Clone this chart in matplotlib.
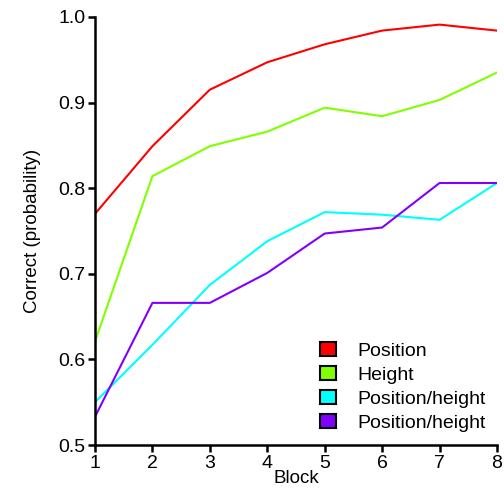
import matplotlib
matplotlib.use("Agg")
import matplotlib.pyplot as plt
from matplotlib.patches import Patch

plt.rcParams['font.family'] = ['Liberation Sans', 'DejaVu Sans']

blocks = [1, 2, 3, 4, 5, 6, 7, 8]
position = [0.770, 0.849, 0.915, 0.947, 0.968, 0.984, 0.991, 0.984]
height = [0.621, 0.814, 0.849, 0.866, 0.894, 0.884, 0.903, 0.935]
pos_height_a = [0.550, 0.617, 0.687, 0.738, 0.772, 0.769, 0.763, 0.806]
pos_height_b = [0.533, 0.666, 0.666, 0.701, 0.747, 0.754, 0.806, 0.806]

labels = ['Position', 'Height', 'Position/height', 'Position/height']
colors = ['#ff0000', '#80ff00', '#00ffff', '#8000ff']
series = [position, height, pos_height_a, pos_height_b]

fig = plt.figure(figsize=(5.04, 4.97), dpi=100)
ax = fig.add_axes([0.1885, 0.1046, 0.7975, 0.8614])

for vals, col in zip(series, colors):
    ax.plot(blocks, vals, color=col, linewidth=1.5)

ax.set_xlim(1, 8)
ax.set_ylim(0.5, 1.0)
ax.set_xticks(blocks)
ax.set_yticks([0.5, 0.6, 0.7, 0.8, 0.9, 1.0])
ax.set_yticklabels(['0.5', '0.6', '0.7', '0.8', '0.9', '1.0'])
ax.spines['top'].set_visible(False)
ax.spines['right'].set_visible(False)
ax.spines['left'].set_linewidth(1.8)
ax.spines['bottom'].set_linewidth(1.8)
ax.tick_params(direction='out', length=5, width=1.8, labelsize=14, pad=2)
ax.set_xlabel('Block', fontsize=13.5, labelpad=-1)
ax.set_ylabel('Correct (probability)', fontsize=13.5, labelpad=12)

handles = [Patch(facecolor=c, edgecolor='black', linewidth=1.5) for c in colors]
ax.legend(handles, labels, loc='lower right', bbox_to_anchor=(1.015, -0.01),
          frameon=False, fontsize=14, handlelength=0.8, handleheight=0.8,
          handletextpad=1.1, labelspacing=0.3)

plt.savefig('out.png', dpi=100)
